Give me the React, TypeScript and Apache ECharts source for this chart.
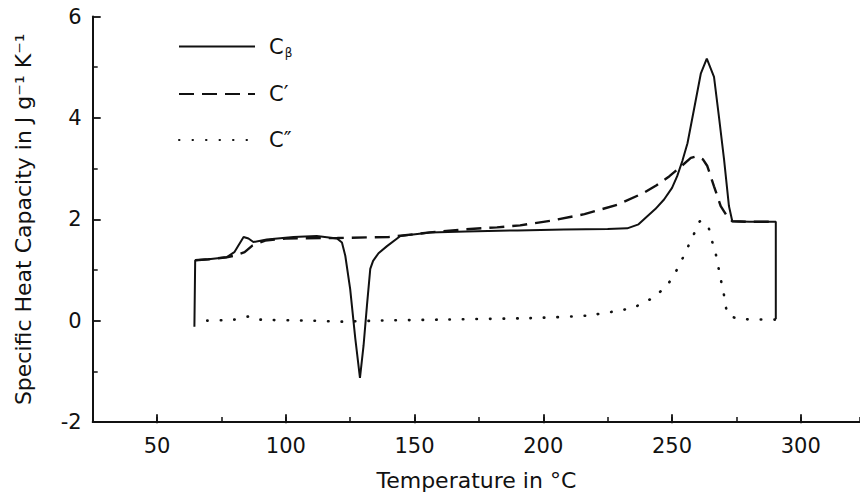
import * as echarts from "echarts";
import { useEffect, useRef } from "react";

// Temperature (°C) and specific heat capacity (J g⁻¹ K⁻¹)
const cBetaT = [
  64.5, 64.8, 70, 77, 80, 83.6, 85.5, 87.4, 92.6, 103, 112, 119.9, 121.8,
  123.1, 125, 127, 128.8, 130.2, 131.5, 132.8, 133.9, 136, 139.3, 144.5, 156,
  170, 190, 208, 225, 232.6, 237, 240.4, 243.5, 246.9, 250, 252, 254, 256,
  258.5, 261.2, 263.5, 266.3, 268.2, 270.2, 272.1, 273.4, 280, 290.3, 290.3,
];
const cBetaCp = [
  -0.12, 1.19, 1.21, 1.25, 1.35, 1.65, 1.62, 1.55, 1.6, 1.65, 1.67, 1.62,
  1.54, 1.28, 0.62, -0.36, -1.13, -0.49, 0.29, 1.02, 1.18, 1.33, 1.47, 1.67,
  1.74, 1.76, 1.78, 1.8, 1.81, 1.82, 1.9, 2.06, 2.2, 2.39, 2.62, 2.85, 3.15,
  3.5, 4.16, 4.88, 5.17, 4.81, 4.03, 3.18, 2.26, 1.96, 1.95, 1.95, 0.03,
];

const cPrimeT = [
  64.8, 70, 77, 80, 84, 87, 92, 100, 120, 140, 156, 169, 182, 191, 204, 216,
  229, 239, 244, 249, 253, 257.3, 259.6, 262, 263.7, 266.3, 268.9, 271.4,
  273.4, 280, 290.3,
];
const cPrimeCp = [
  1.19, 1.21, 1.25, 1.28, 1.35, 1.48, 1.58, 1.62, 1.63, 1.65, 1.74, 1.8, 1.84,
  1.88, 1.98, 2.1, 2.29, 2.52, 2.67, 2.85, 3.02, 3.21, 3.24, 3.18, 3.05, 2.65,
  2.26, 2.06, 1.96, 1.95, 1.95,
];

const cDoubleT = [
  69.5, 80, 85.4, 90, 110, 122, 135, 160, 195, 217, 227.4, 235.2, 239, 243,
  246, 248.8, 251.1, 253.1, 255.1, 257, 258.9, 260.9, 263.7, 265.7, 267,
  268.9, 270, 270.8, 272.1, 277.3, 290,
];
const cDoubleCp = [
  0, 0.02, 0.08, 0.02, 0, -0.02, 0, 0.02, 0.05, 0.1, 0.18, 0.26, 0.36, 0.46,
  0.6, 0.75, 0.93, 1.13, 1.33, 1.55, 1.75, 1.96, 1.9, 1.54, 1.31, 0.82, 0.56,
  0.29, 0.1, 0.03, 0.02,
];

const seriesNames = ["Cβ", "C′", "C″"];

// axis range in °C; major ticks every 50, minor every 25
const tempMin = 25;
const tempMax = 323;
const majorStart = 50;

const ink = "#111";
const font = "DejaVu Sans";

const pairs = (xs: number[], ys: number[]) => xs.map((x, i) => [x, ys[i]]);

export default function App() {
  const chartRef = useRef<HTMLDivElement>(null);

  useEffect(() => {
    if (!chartRef.current) return;
    const chart = echarts.init(chartRef.current, null, { renderer: "svg" });

    const plotLeft = 92.7;
    const plotRight = 860;
    const pxPerDeg = (plotRight - plotLeft) / (tempMax - tempMin);
    const gridV = { top: 16.5, bottom: 72.7, right: 0 };

    chart.setOption({
      animation: false,
      backgroundColor: "#fff",
      textStyle: { fontFamily: font, color: ink },
      grid: [
        { left: plotLeft, ...gridV },
        // second grid only carries the long ticks and labels at 50, 100, ...
        { left: plotLeft + (majorStart - tempMin) * pxPerDeg, ...gridV },
      ],
      legend: {
        orient: "vertical",
        left: 173,
        top: 31,
        itemWidth: 76,
        itemHeight: 24,
        itemGap: 25,
        data: seriesNames,
        itemStyle: { opacity: 0 },
        textStyle: {
          fontSize: 21,
          color: ink,
          fontFamily: font,
          padding: [0, 0, 0, 9],
          rich: {
            base: { fontSize: 21, color: ink, fontFamily: font },
            sub: { fontSize: 12, color: ink, fontFamily: font, padding: [12, 0, 0, 1] },
          },
        },
        formatter: (name: string) =>
          name === "Cβ" ? "{base|C}{sub|β}" : name,
      },
      xAxis: [
        {
          gridIndex: 0,
          type: "value",
          min: tempMin,
          max: tempMax,
          interval: 25,
          splitLine: { show: false },
          name: "Temperature in °C",
          nameLocation: "middle",
          nameGap: 47,
          nameTextStyle: { fontSize: 22, color: ink, fontFamily: font },
          axisLine: { onZero: false, lineStyle: { color: ink, width: 2 } },
          axisTick: {
            show: true,
            inside: true,
            length: 5,
            lineStyle: { color: ink, width: 1.5 },
          },
          axisLabel: { show: false },
        },
        {
          gridIndex: 1,
          type: "value",
          min: majorStart,
          max: tempMax,
          interval: 50,
          splitLine: { show: false },
          axisLine: { show: false, onZero: false },
          axisTick: {
            show: true,
            inside: true,
            length: 9,
            lineStyle: { color: ink, width: 1.8 },
          },
          axisLabel: {
            fontSize: 21,
            color: ink,
            fontFamily: font,
            margin: 12,
            showMaxLabel: false,
          },
        },
      ],
      yAxis: [
        {
          gridIndex: 0,
          type: "value",
          min: -2,
          max: 6,
          interval: 2,
          name: "Specific Heat Capacity in J g⁻¹ K⁻¹",
          nameLocation: "middle",
          nameGap: 58,
          nameTextStyle: { fontSize: 22, color: ink, fontFamily: font },
          splitLine: { show: false },
          axisLine: { show: true, onZero: false, lineStyle: { color: ink, width: 2 } },
          axisTick: {
            show: true,
            inside: true,
            length: 8,
            lineStyle: { color: ink, width: 1.8 },
          },
          minorTick: {
            show: true,
            splitNumber: 2,
            length: 5,
            lineStyle: { color: ink, width: 1.5 },
          },
          axisLabel: { fontSize: 21, color: ink, fontFamily: font, margin: 11 },
        },
        {
          gridIndex: 1,
          type: "value",
          min: -2,
          max: 6,
          show: false,
        },
      ],
      series: [
        {
          name: seriesNames[0],
          type: "line",
          data: pairs(cBetaT, cBetaCp),
          symbol: "none",
          color: ink,
          lineStyle: { color: ink, width: 2 },
        },
        {
          name: seriesNames[1],
          type: "line",
          data: pairs(cPrimeT, cPrimeCp),
          symbol: "none",
          color: ink,
          lineStyle: { color: ink, width: 2.4, type: [15, 8] },
        },
        {
          name: seriesNames[2],
          type: "line",
          data: pairs(cDoubleT, cDoubleCp),
          symbol: "none",
          color: ink,
          smooth: 0.2,
          lineStyle: { color: ink, width: 2.6, type: [0.5, 13], cap: "round" },
        },
      ],
    });

    return () => {
      chart.dispose();
    };
  }, []);

  return (
    <div
      ref={chartRef}
      style={{ position: "fixed", left: 0, top: 0, width: 860, height: 496 }}
    />
  );
}
